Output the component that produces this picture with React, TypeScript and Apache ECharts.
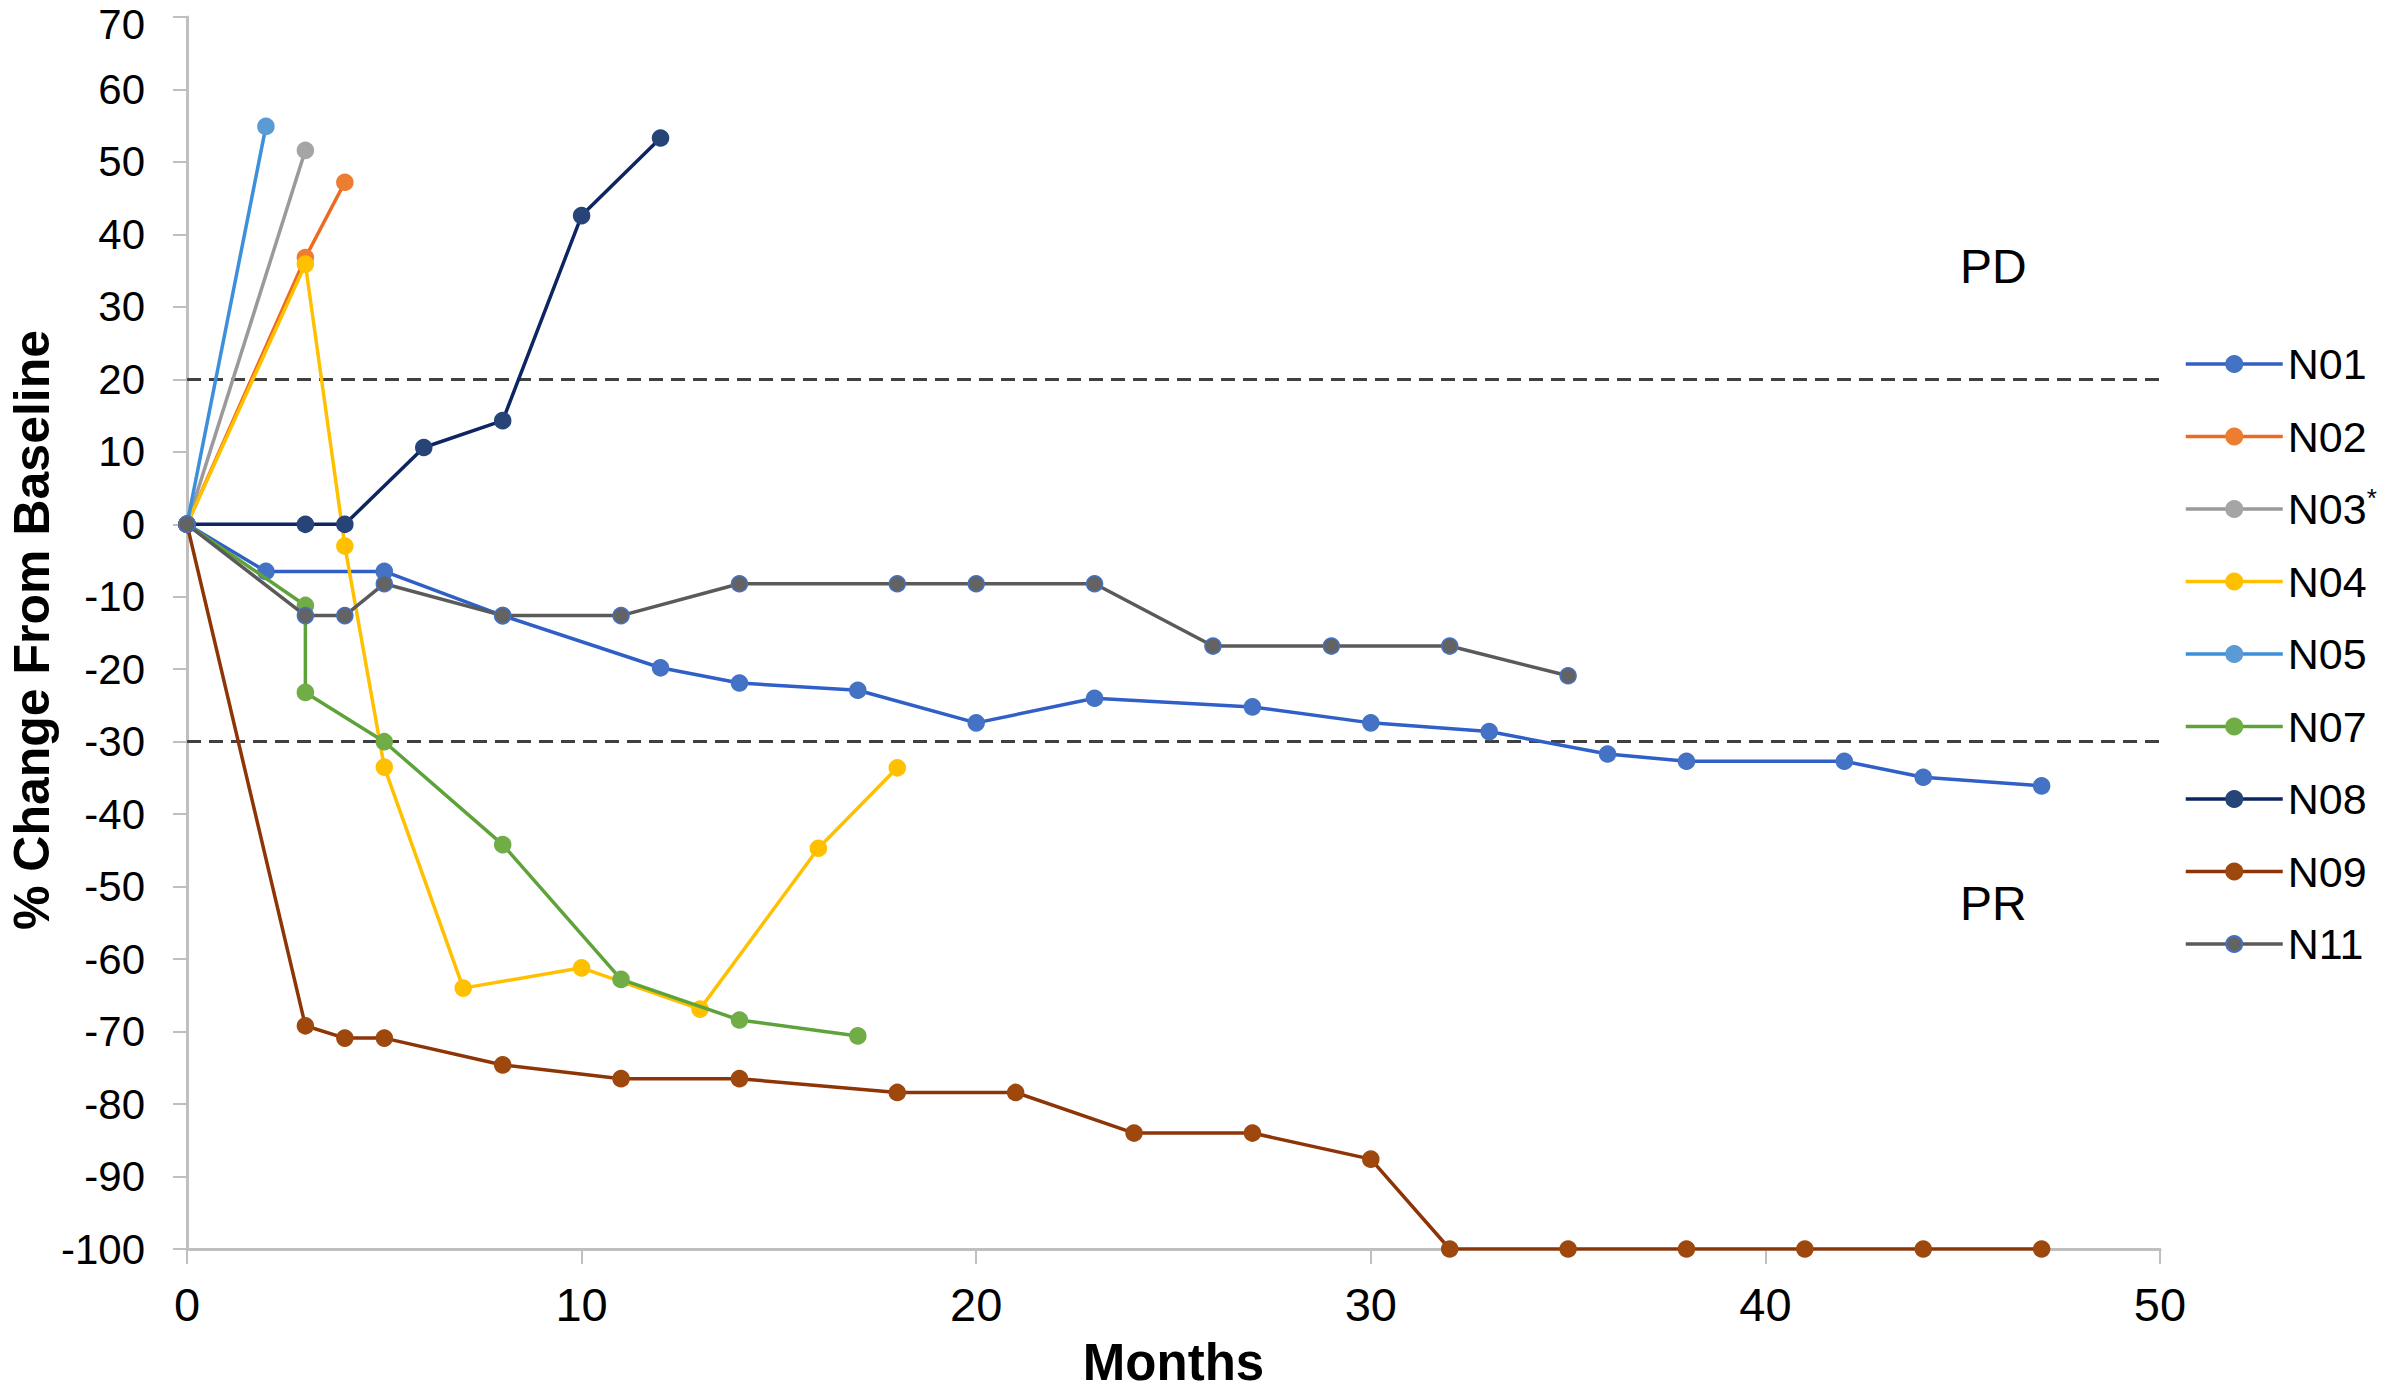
import React, { useEffect, useRef } from "react";
import * as echarts from "echarts";

const seriesNames = ["N01", "N02", "N03", "N04", "N05", "N07", "N08", "N09", "N11"];

const n01Months = [0, 2, 5, 8, 12, 14, 17, 20, 23, 27, 30, 33, 36, 38, 42, 44, 47];
const n01Values = [0, -6.5, -6.5, -12.6, -19.8, -21.9, -22.9, -27.4, -24.0, -25.2, -27.4, -28.6, -31.7, -32.7, -32.7, -34.9, -36.1];

const n02Months = [0, 3, 4];
const n02Values = [0, 36.8, 47.2];

const n03Months = [0, 3];
const n03Values = [0, 51.6];

const n04Months = [0, 3, 4, 5, 7, 10, 13, 16, 18];
const n04Values = [0, 35.9, -3.0, -33.5, -64.0, -61.2, -66.9, -44.7, -33.6];

const n05Months = [0, 2];
const n05Values = [0, 54.9];

const n07Months = [0, 3, 3, 5, 8, 11, 14, 17];
const n07Values = [0, -11.2, -23.2, -30.0, -44.2, -62.8, -68.4, -70.6];

const n08Months = [0, 3, 4, 6, 8, 10, 12];
const n08Values = [0, 0, 0, 10.6, 14.3, 42.6, 53.3];

const n09Months = [0, 3, 4, 5, 8, 11, 14, 18, 21, 24, 27, 30, 32, 35, 38, 41, 44, 47];
const n09Values = [0, -69.2, -70.9, -70.9, -74.6, -76.5, -76.5, -78.4, -78.4, -84.0, -84.0, -87.6, -100, -100, -100, -100, -100, -100];

const n11Months = [0, 3, 4, 5, 8, 11, 14, 18, 20, 23, 26, 29, 32, 35];
const n11Values = [0, -12.6, -12.6, -8.2, -12.6, -12.6, -8.2, -8.2, -8.2, -8.2, -16.8, -16.8, -16.8, -20.9];

const thresholdValues = [20, -30];
const xTicks = [0, 10, 20, 30, 40, 50];

const monthsList = [n01Months, n02Months, n03Months, n04Months, n05Months, n07Months, n08Months, n09Months, n11Months];
const valuesList = [n01Values, n02Values, n03Values, n04Values, n05Values, n07Values, n08Values, n09Values, n11Values];

const lineColors = ["#2F5FC7", "#EE6A22", "#9A9A9A", "#FFC000", "#3C8FDB", "#5EA33A", "#0E2563", "#8E3507", "#5A5A5A"];
const markerColors = ["#4472C4", "#ED7D31", "#A5A5A5", "#FFC000", "#5B9BD5", "#70AD47", "#264478", "#9E480E", "#636363"];
const markerBorders = ["#4472C4", "#ED7D31", "#A5A5A5", "#FFC000", "#5B9BD5", "#70AD47", "#264478", "#9E480E", "#4472C4"];

const FONT = "'Liberation Sans', Arial, Helvetica, sans-serif";

export default function App() {
  const ref = useRef<HTMLDivElement>(null);

  useEffect(() => {
    if (!ref.current) return;
    const chart = echarts.init(ref.current, null, { renderer: "svg" });

    const series: any[] = seriesNames.map((name, i) => {
      const data = monthsList[i].map((m, k) => [m, valuesList[i][k]]);
      const s: any = {
        name,
        type: "line",
        data,
        symbol: "circle",
        symbolSize: 16,
        showSymbol: true,
        lineStyle: { color: lineColors[i], width: 3.5 },
        itemStyle: { color: markerColors[i], borderColor: markerBorders[i], borderWidth: 1.5 },
        z: 3 + i,
        emphasis: { disabled: true },
      };
      if (i === 0) {
        s.markLine = {
          silent: true,
          symbol: "none",
          label: { show: false },
          lineStyle: { color: "#404040", type: [14, 8], width: 3 },
          data: thresholdValues.map((v) => ({ yAxis: v })),
          z: 2,
        };
      }
      return s;
    });

    chart.setOption({
      animation: false,
      backgroundColor: "#ffffff",
      textStyle: { fontFamily: FONT },
      grid: {
        left: 187,
        right: 221,
        top: 17,
        bottom: 143,
        containLabel: false,
        outerBoundsMode: "none",
      },
      xAxis: {
        type: "value",
        min: 0,
        max: 50,
        interval: 10,
        name: "Months",
        nameLocation: "middle",
        nameGap: 92,
        nameTextStyle: { fontSize: 51, lineHeight: 43, fontWeight: "bold", color: "#000", fontFamily: FONT },
        axisLine: { show: true, onZero: false, lineStyle: { color: "#BFBFBF", width: 3 } },
        axisTick: { show: true, length: 15, lineStyle: { color: "#BFBFBF", width: 2 } },
        splitLine: { show: false },
        axisLabel: {
          fontSize: 47,
          color: "#000",
          margin: 32,
          fontFamily: FONT,
          formatter: (v: number) => (xTicks.includes(v) ? String(v) : ""),
        },
      },
      yAxis: {
        type: "value",
        min: -100,
        max: 70,
        interval: 10,
        axisLine: { show: true, onZero: false, lineStyle: { color: "#BFBFBF", width: 3 } },
        axisTick: { show: true, length: 14, lineStyle: { color: "#BFBFBF", width: 2 } },
        splitLine: { show: false },
        axisLabel: {
          fontSize: 42,
          lineHeight: 34,
          color: "#000",
          margin: 42,
          fontFamily: FONT,
          formatter: (v: number) => (v === 70 ? "{top|70}" : String(v)),
          rich: {
            top: { fontSize: 42, color: "#000", fontFamily: FONT, padding: [14, 0, 0, 0] },
          },
        },
      },
      legend: {
        show: true,
        orient: "vertical",
        left: 2184,
        top: 339,
        padding: 0,
        itemWidth: 97,
        itemHeight: 20,
        itemGap: 22.5,
        data: seriesNames,
        selectedMode: false,
        lineStyle: { width: 3.5 },
        formatter: (name: string) => (name === "N03" ? "N03{s|*}" : name),
        textStyle: {
          fontSize: 43,
          color: "#000",
          fontFamily: FONT,
          lineHeight: 50,
          rich: {
            s: { fontSize: 26, color: "#000", fontFamily: FONT, padding: [0, 0, 22, 0] },
          },
        },
      },
      graphic: [
        {
          type: "text",
          x: 32,
          y: 630,
          rotation: Math.PI / 2,
          style: {
            text: "% Change From Baseline",
            fontSize: 50,
            fontWeight: "bold",
            fill: "#000",
            fontFamily: FONT,
            align: "center",
            verticalAlign: "middle",
            textAlign: "center",
            textVerticalAlign: "middle",
          },
        },
        {
          type: "text",
          left: 1960,
          top: 242,
          style: { text: "PD", fontSize: 48, fill: "#000", fontFamily: FONT },
        },
        {
          type: "text",
          left: 1960,
          top: 879,
          style: { text: "PR", fontSize: 48, fill: "#000", fontFamily: FONT },
        },
      ],
      series,
    });

    return () => {
      chart.dispose();
    };
  }, []);

  return (
    <div
      ref={ref}
      style={{ position: "absolute", left: 0, top: 0, width: 2381, height: 1392, background: "#fff" }}
    />
  );
}
